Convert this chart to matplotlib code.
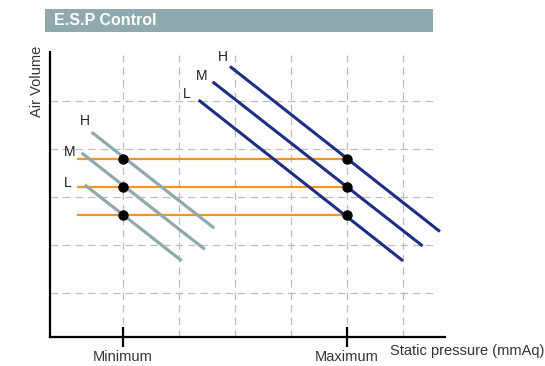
import matplotlib
matplotlib.use("Agg")
import matplotlib.pyplot as plt
from matplotlib.patches import Rectangle

plt.rcParams['font.family'] = ['Liberation Sans', 'DejaVu Sans']

# data (x: Minimum=1, Maximum=5 ; y: gridline units)
speeds = ['H', 'M', 'L']
low_x0 = [0.44, 0.26, 0.32]
low_y0 = [4.35, 3.92, 3.25]
low_x1 = [2.63, 2.46, 2.05]
low_y1 = [2.35, 1.91, 1.67]
high_x0 = [2.91, 2.60, 2.35]
high_y0 = [5.72, 5.40, 5.02]
high_x1 = [6.66, 6.35, 6.00]
high_y1 = [2.28, 1.98, 1.67]
op_y = [3.80, 3.20, 2.625]
op_x = [1, 5]
tick_pos = [1, 5]
tick_labels = ['Minimum', 'Maximum']

W, H = 545, 366
fig = plt.figure(figsize=(W / 100, H / 100), dpi=100)

# axes box in pixels
ax_l, ax_r, ax_t, ax_b = 50, 445, 52, 337
ax = fig.add_axes([ax_l / W, 1 - ax_b / H, (ax_r - ax_l) / W, (ax_b - ax_t) / H])
ax.set_xlim(1 + (ax_l - 123) / 56, 1 + (ax_r - 123) / 56)
ax.set_ylim(1 + (293 - ax_b) / 48, 1 + (293 - ax_t) / 48)

# grid
grid_kw = dict(colors='#bdbdbd', linestyles=(0, (6, 4)), linewidth=0.9, zorder=1)
ax.hlines([1, 2, 3, 4, 5], ax.get_xlim()[0], 1 + (433 - 123) / 56, **grid_kw)
ax.vlines([1, 2, 3, 4, 5, 6], ax.get_ylim()[0], 1 + (293 - 55) / 48, **grid_kw)

# operating lines
for y in op_y:
    ax.plot([0.196, 5], [y, y], color='#f7941d', lw=1.6, zorder=2)

for i in range(3):
    ax.plot([low_x0[i], low_x1[i]], [low_y0[i], low_y1[i]], color='#8fa9ad', lw=2.3,
            solid_capstyle='butt', zorder=3)
    ax.plot([high_x0[i], high_x1[i]], [high_y0[i], high_y1[i]], color='#1f2d86', lw=2.2,
            solid_capstyle='butt', zorder=3)

for y in op_y:
    ax.plot(op_x, [y, y], 'o', color='black', ms=6.5, zorder=4)

# labels
low_lab = [(0.32, 4.59), (0.05, 3.94), (0.02, 3.29)]
high_lab = [(2.79, 5.92), (2.41, 5.52), (2.14, 5.15)]
for s, (x, y) in zip(speeds, low_lab):
    ax.text(x, y, s, ha='center', va='center', fontsize=10, color='#222222')
for s, (x, y) in zip(speeds, high_lab):
    ax.text(x, y, s, ha='center', va='center', fontsize=10, color='#222222')

for side in ['top', 'right']:
    ax.spines[side].set_visible(False)
for side in ['left', 'bottom']:
    ax.spines[side].set_linewidth(1.6)
ax.set_yticks([])
ax.set_xticks(tick_pos)
ax.set_xticklabels(tick_labels, fontsize=10.5, color='#333333')
ax.tick_params(axis='x', direction='inout', length=14, width=1.6, pad=2.5)

# title bar
fig.patches.append(Rectangle((45 / W, 1 - 32 / H), (433 - 45) / W, 23 / H,
                             transform=fig.transFigure, facecolor='#8fa9ae',
                             edgecolor='none'))
fig.text(54 / W, 1 - 20.5 / H, 'E.S.P Control', color='white', fontsize=11.5,
         fontweight='bold', ha='left', va='center')

fig.text(37 / W, 1 - 81 / H, 'Air Volume', rotation=90, fontsize=10.5,
         ha='center', va='center', color='#333333')
fig.text(390 / W, 1 - 351 / H, 'Static pressure (mmAq)', fontsize=10.5,
         ha='left', va='center', color='#333333')

fig.savefig('out.png', dpi=100)
